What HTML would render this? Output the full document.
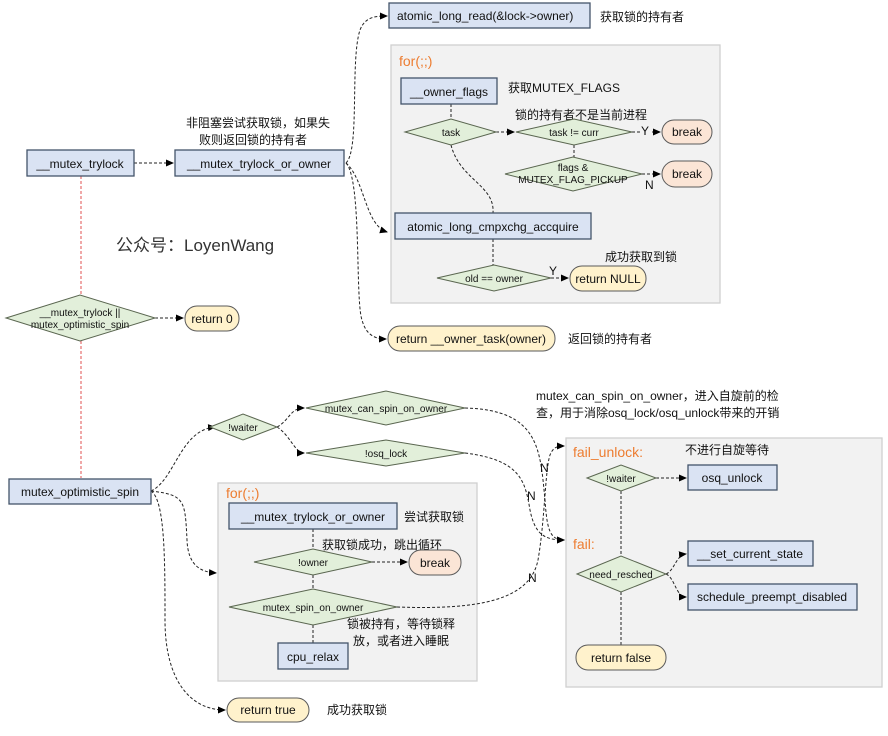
<!DOCTYPE html>
<html><head><meta charset="utf-8"><style>
body{margin:0;background:#fff}
svg text{font-family:"Liberation Sans","Noto Sans CJK SC",sans-serif;font-size:12px;fill:#111}
.b{fill:#dae3f3;stroke:#44546a;stroke-width:1.3}
.d{fill:#e2efda;stroke:#5a6650;stroke-width:1}
.p{fill:#fff2cc;stroke:#5a5a5a;stroke-width:1}
.k{fill:#fbe5d6;stroke:#5a5a5a;stroke-width:1}
.c{fill:#f2f2f2;stroke:#d0d0d0;stroke-width:1.3}
.l{fill:none;stroke:#222;stroke-width:1;stroke-dasharray:3,2}
.o{fill:#ed7d31}
.s{font-size:10px}
</style></head><body>
<svg width="888" height="731" viewBox="0 0 888 731" xmlns="http://www.w3.org/2000/svg">
<defs><marker id="a" markerWidth="8" markerHeight="8" refX="7" refY="4" orient="auto" markerUnits="userSpaceOnUse"><path d="M0,0.5 L8,4 L0,7.5z" fill="#000"/></marker></defs>
<!-- containers -->
<rect class="c" x="391" y="45" width="329" height="258"/>
<rect class="c" x="218" y="483" width="259" height="198"/>
<rect class="c" x="566" y="438" width="316" height="249"/>
<text x="399" y="66" class="o" style="font-size:14px">for(;;)</text>
<text x="226" y="498" class="o" style="font-size:14px">for(;;)</text>
<text x="573" y="457" class="o" style="font-size:14px">fail_unlock:</text>
<text x="573" y="549" class="o" style="font-size:14px">fail:</text>
<!-- red line -->
<line x1="81" y1="176" x2="81" y2="478" stroke="#e05050" stroke-dasharray="3,2"/>
<!-- connectors -->
<path class="l" d="M134,163 L173,163" marker-end="url(#a)"/>
<path class="l" d="M346,163 C360,150 350,60 360,30 C365,17 375,16 387,16" marker-end="url(#a)"/>
<path class="l" d="M346,163 C365,180 365,225 387,232" marker-end="url(#a)"/>
<path class="l" d="M346,163 C362,180 355,300 362,320 C366,335 375,339 386,339" marker-end="url(#a)"/>
<path class="l" d="M155,318 L183,318" marker-end="url(#a)"/>
<path class="l" d="M451,104 L451,119"/>
<path class="l" d="M496,132 L514,132" marker-end="url(#a)"/>
<path class="l" d="M632,132 L660,132" marker-end="url(#a)"/>
<path class="l" d="M574,145 L574,157"/>
<path class="l" d="M642,174 L660,174" marker-end="url(#a)"/>
<path class="l" d="M451,145 C460,180 495,185 493,213"/>
<path class="l" d="M493,239 L493,265"/>
<path class="l" d="M551,278 L568,278" marker-end="url(#a)"/>
<path class="l" d="M151,491 C175,480 180,430 215,427" marker-end="url(#a)"/>
<path class="l" d="M277,427 C290,420 290,408 304,408" marker-end="url(#a)"/>
<path class="l" d="M277,427 C290,435 295,453 304,453" marker-end="url(#a)"/>
<path class="l" d="M151,491 C185,495 185,500 187,540 C188,565 200,572 216,573" marker-end="url(#a)"/>
<path class="l" d="M151,491 C165,500 165,560 165,620 C165,680 190,710 225,710" marker-end="url(#a)"/>
<path class="l" d="M313,529 L313,549"/>
<path class="l" d="M372,562 L407,562" marker-end="url(#a)"/>
<path class="l" d="M313,575 L313,589"/>
<path class="l" d="M313,625 L313,643"/>
<path class="l" d="M465,408 C540,410 540,450 545,500 C547,530 550,540 564,540" marker-end="url(#a)"/>
<path class="l" d="M465,453 C520,460 525,480 530,510 C535,535 545,540 564,540" marker-end="url(#a)"/>
<path class="l" d="M397,607 C480,610 530,600 538,560 C545,520 545,470 550,455 C553,448 556,446 564,446" marker-end="url(#a)"/>
<path class="l" d="M656,478 L686,478" marker-end="url(#a)"/>
<path class="l" d="M621,491 L621,556"/>
<path class="l" d="M666,574 C675,570 676,555 686,554" marker-end="url(#a)"/>
<path class="l" d="M666,574 C675,578 676,597 686,597" marker-end="url(#a)"/>
<path class="l" d="M621,592 L621,645"/>
<!-- N/Y labels -->
<g class="s"><rect x="640" y="125" width="12" height="12" fill="#f2f2f2"/><text x="641" y="135">Y</text>
<text x="645" y="189">N</text><text x="549" y="275">Y</text>
<text x="540" y="472">N</text><text x="527" y="500">N</text><text x="528" y="582">N</text></g>
<!-- boxes -->
<rect class="b" x="389" y="3" width="201" height="25"/><text x="397" y="20">atomic_long_read(&amp;lock-&gt;owner)</text>
<text x="600" y="21">获取锁的持有者</text>
<rect class="b" x="401" y="78" width="96" height="26"/><text x="449" y="96" text-anchor="middle">__owner_flags</text>
<text x="508" y="92">获取MUTEX_FLAGS</text>
<text x="515" y="119">锁的持有者不是当前进程</text>
<polygon class="d" points="405,132 451,119 496,132 451,145"/><text x="451" y="136" class="s" text-anchor="middle">task</text>
<polygon class="d" points="516,132 574,119 632,132 574,145"/><text x="574" y="136" class="s" text-anchor="middle">task != curr</text>
<rect class="k" x="662" y="120" width="50" height="24" rx="12"/><text x="687" y="136" text-anchor="middle">break</text>
<polygon class="d" points="505,174 573,157 642,174 573,191"/><text x="573" y="171" class="s" text-anchor="middle">flags &amp;</text><text x="573" y="183" class="s" text-anchor="middle">MUTEX_FLAG_PICKUP</text>
<rect class="k" x="662" y="161" width="50" height="26" rx="13"/><text x="687" y="178" text-anchor="middle">break</text>
<rect class="b" x="395" y="213" width="196" height="26"/><text x="493" y="231" text-anchor="middle">atomic_long_cmpxchg_accquire</text>
<text x="605" y="261">成功获取到锁</text>
<polygon class="d" points="437,278 494,265 551,278 494,291"/><text x="494" y="282" class="s" text-anchor="middle">old == owner</text>
<rect class="p" x="570" y="266" width="76" height="25" rx="12"/><text x="608" y="283" text-anchor="middle">return NULL</text>
<rect class="p" x="388" y="326" width="167" height="25" rx="12"/><text x="471" y="343" text-anchor="middle">return __owner_task(owner)</text>
<text x="568" y="343">返回锁的持有者</text>
<rect class="b" x="27" y="150" width="107" height="26"/><text x="80" y="168" text-anchor="middle">__mutex_trylock</text>
<rect class="b" x="175" y="150" width="169" height="26"/><text x="259" y="168" text-anchor="middle">__mutex_trylock_or_owner</text>
<text x="258" y="127" text-anchor="middle">非阻塞尝试获取锁，如果失</text><text x="253" y="144" text-anchor="middle">败则返回锁的持有者</text>
<text x="116" y="251" style="font-size:17px;fill:#333">公众号：LoyenWang</text>
<polygon class="d" points="6,318 80,295 155,318 80,341"/><text x="80" y="316" class="s" text-anchor="middle">__mutex_trylock ||</text><text x="80" y="328" class="s" text-anchor="middle">mutex_optimistic_spin</text>
<rect class="p" x="185" y="306" width="54" height="25" rx="12"/><text x="212" y="323" text-anchor="middle">return 0</text>
<rect class="b" x="9" y="479" width="142" height="25"/><text x="80" y="496" text-anchor="middle">mutex_optimistic_spin</text>
<polygon class="d" points="210,427 243,414 277,427 243,440"/><text x="243" y="431" class="s" text-anchor="middle">!waiter</text>
<polygon class="d" points="306,408 386,391 465,408 386,425"/><text x="386" y="412" class="s" text-anchor="middle">mutex_can_spin_on_owner</text>
<polygon class="d" points="306,453 386,440 465,453 386,466"/><text x="386" y="457" class="s" text-anchor="middle">!osq_lock</text>
<text x="536" y="400">mutex_can_spin_on_owner，进入自旋前的检</text>
<text x="536" y="417">查，用于消除osq_lock/osq_unlock带来的开销</text>
<rect class="b" x="229" y="503" width="168" height="26"/><text x="313" y="521" text-anchor="middle">__mutex_trylock_or_owner</text>
<text x="404" y="521">尝试获取锁</text>
<text x="322" y="549">获取锁成功，跳出循环</text>
<polygon class="d" points="254,562 313,549 372,562 313,575"/><text x="313" y="566" class="s" text-anchor="middle">!owner</text>
<rect class="k" x="409" y="550" width="52" height="25" rx="12"/><text x="435" y="567" text-anchor="middle">break</text>
<polygon class="d" points="229,607 313,589 397,607 313,625"/><text x="313" y="611" class="s" text-anchor="middle">mutex_spin_on_owner</text>
<text x="347" y="628">锁被持有，等待锁释</text><text x="353" y="645">放，或者进入睡眠</text>
<rect class="b" x="278" y="643" width="70" height="26"/><text x="313" y="661" text-anchor="middle">cpu_relax</text>
<rect class="p" x="227" y="698" width="82" height="24" rx="12"/><text x="268" y="714" text-anchor="middle">return true</text>
<text x="327" y="714">成功获取锁</text>
<text x="685" y="454">不进行自旋等待</text>
<polygon class="d" points="587,478 621,465 656,478 621,491"/><text x="621" y="482" class="s" text-anchor="middle">!waiter</text>
<rect class="b" x="688" y="465" width="89" height="25"/><text x="732" y="482" text-anchor="middle">osq_unlock</text>
<polygon class="d" points="577,574 621,556 666,574 621,592"/><text x="621" y="578" class="s" text-anchor="middle">need_resched</text>
<rect class="b" x="688" y="541" width="125" height="25"/><text x="750" y="558" text-anchor="middle">__set_current_state</text>
<rect class="b" x="688" y="584" width="169" height="26"/><text x="772" y="601" text-anchor="middle">schedule_preempt_disabled</text>
<rect class="p" x="576" y="645" width="90" height="25" rx="12"/><text x="621" y="662" text-anchor="middle">return false</text>
</svg>
</body></html>
